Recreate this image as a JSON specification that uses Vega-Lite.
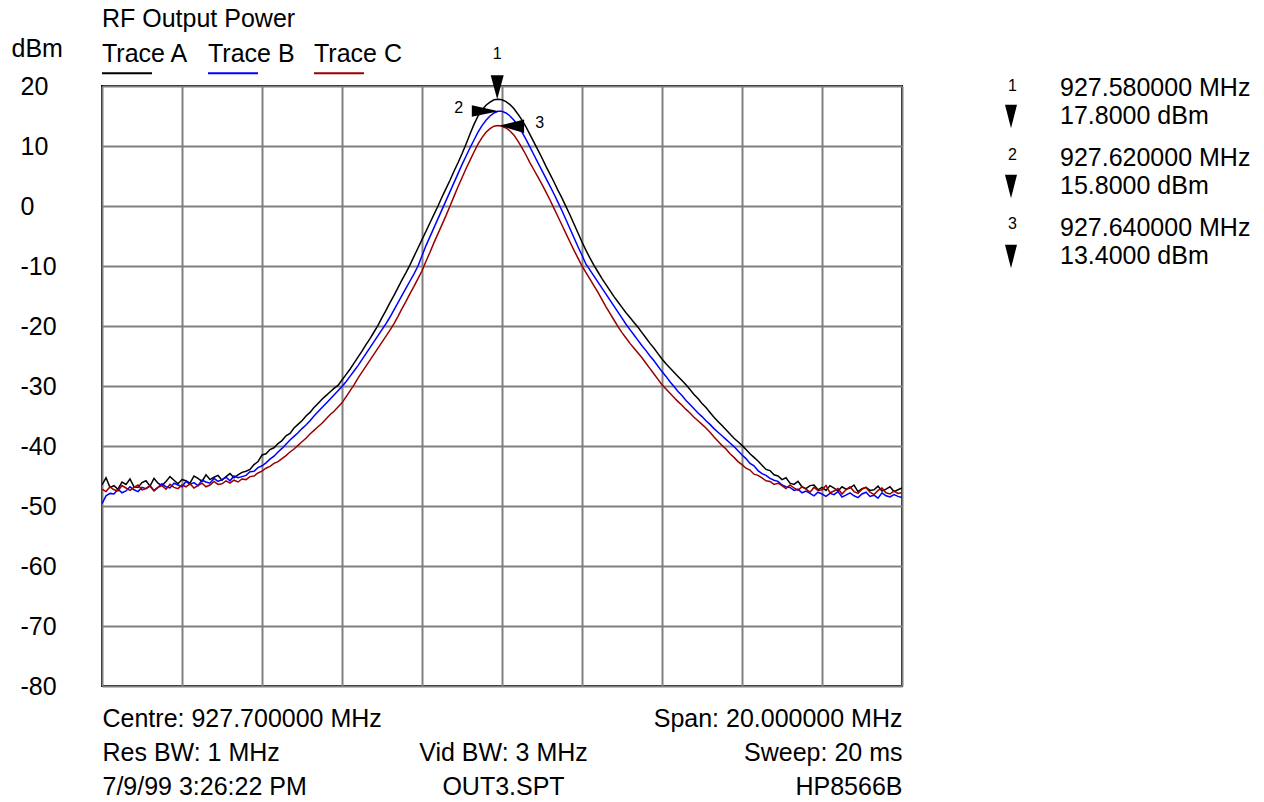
{
"$schema":"https://vega.github.io/schema/vega-lite/v6.json",
"width":800,"height":600,
"autosize":{"type":"none"},
"padding":{"left":102,"top":86,"right":362,"bottom":116},
"background":"white",
"title":{"text":"RF Output Power","anchor":"start","frame":"group","fontSize":25,"fontWeight":"normal","color":"#000000","offset":-16,"baseline":"alphabetic","font":"Liberation Sans"},
"config":{"font":"Liberation Sans","view":{"stroke":"#000000","strokeWidth":2},"axis":{"labelFont":"Liberation Sans","titleFont":"Liberation Sans"},"legend":{"labelFont":"Liberation Sans"}},
"datasets":{
"traces":[
{"f":917.7,"A":-46.5,"B":-49.6,"C":-47.2},{"f":917.8,"A":-45.3,"B":-48.3,"C":-47.6},{"f":917.9,"A":-46.9,"B":-47.9,"C":-46.8},{"f":918.0,"A":-46.6,"B":-48.0,"C":-47.3},{"f":918.1,"A":-47.2,"B":-47.2,"C":-47.5},{"f":918.2,"A":-46.0,"B":-47.8,"C":-46.6},{"f":918.3,"A":-46.4,"B":-47.5,"C":-47.0},{"f":918.4,"A":-45.5,"B":-46.8,"C":-47.4},{"f":918.5,"A":-46.8,"B":-47.3,"C":-46.9},{"f":918.6,"A":-46.9,"B":-47.6,"C":-46.5},
{"f":918.7,"A":-46.1,"B":-46.9,"C":-47.3},{"f":918.8,"A":-45.8,"B":-47.1,"C":-47.1},{"f":918.9,"A":-46.7,"B":-46.6,"C":-46.7},{"f":919.0,"A":-45.4,"B":-47.4,"C":-47.5},{"f":919.1,"A":-46.2,"B":-46.9,"C":-46.9},{"f":919.2,"A":-46.6,"B":-46.3,"C":-46.6},{"f":919.3,"A":-45.9,"B":-46.8,"C":-47.2},{"f":919.4,"A":-45.1,"B":-47.0,"C":-46.4},{"f":919.5,"A":-45.7,"B":-46.2,"C":-46.9},{"f":919.6,"A":-46.3,"B":-46.5,"C":-47.1},
{"f":919.7,"A":-45.6,"B":-46.8,"C":-46.5},{"f":919.8,"A":-45.8,"B":-45.9,"C":-46.8},{"f":919.9,"A":-46.2,"B":-46.4,"C":-46.3},{"f":920.0,"A":-45.0,"B":-46.1,"C":-47.0},{"f":920.1,"A":-45.4,"B":-46.6,"C":-46.6},{"f":920.2,"A":-45.9,"B":-45.7,"C":-46.2},{"f":920.3,"A":-44.8,"B":-46.0,"C":-46.8},{"f":920.4,"A":-45.6,"B":-46.2,"C":-46.5},{"f":920.5,"A":-45.2,"B":-45.4,"C":-45.9},{"f":920.6,"A":-44.9,"B":-45.9,"C":-46.4},
{"f":920.7,"A":-45.7,"B":-45.6,"C":-46.3},{"f":920.8,"A":-45.1,"B":-45.2,"C":-45.8},{"f":920.9,"A":-44.6,"B":-45.8,"C":-46.2},{"f":921.0,"A":-45.3,"B":-45.0,"C":-45.7},{"f":921.1,"A":-44.8,"B":-45.3,"C":-46.0},{"f":921.2,"A":-44.4,"B":-45.1,"C":-45.5},{"f":921.3,"A":-44.2,"B":-44.9,"C":-45.6},{"f":921.4,"A":-43.9,"B":-44.3,"C":-45.1},{"f":921.5,"A":-43.1,"B":-44.2,"C":-45.0},{"f":921.6,"A":-42.6,"B":-43.6,"C":-44.5},
{"f":921.7,"A":-41.5,"B":-43.3,"C":-44.2},{"f":921.8,"A":-41.3,"B":-42.8,"C":-43.7},{"f":921.9,"A":-40.6,"B":-42.2,"C":-43.4},{"f":922.0,"A":-40.3,"B":-41.7,"C":-42.9},{"f":922.1,"A":-39.6,"B":-41.0,"C":-42.6},{"f":922.2,"A":-39.1,"B":-40.4,"C":-42.1},{"f":922.3,"A":-38.3,"B":-39.7,"C":-41.6},{"f":922.4,"A":-37.9,"B":-39.0,"C":-41.0},{"f":922.5,"A":-37.0,"B":-38.4,"C":-40.5},{"f":922.6,"A":-36.4,"B":-37.8,"C":-39.9},
{"f":922.7,"A":-35.8,"B":-37.1,"C":-39.3},{"f":922.8,"A":-35.0,"B":-36.5,"C":-38.7},{"f":922.9,"A":-34.4,"B":-35.8,"C":-38.0},{"f":923.0,"A":-33.6,"B":-35.0,"C":-37.4},{"f":923.1,"A":-32.9,"B":-34.3,"C":-36.8},{"f":923.2,"A":-32.2,"B":-33.6,"C":-36.2},{"f":923.3,"A":-31.6,"B":-32.9,"C":-35.5},{"f":923.4,"A":-31.0,"B":-32.2,"C":-34.8},{"f":923.5,"A":-30.4,"B":-31.5,"C":-34.2},{"f":923.6,"A":-29.9,"B":-30.8,"C":-33.5},
{"f":923.7,"A":-29.0,"B":-30.1,"C":-32.8},{"f":923.8,"A":-28.1,"B":-29.3,"C":-31.8},{"f":923.9,"A":-27.2,"B":-28.4,"C":-30.8},{"f":924.0,"A":-26.2,"B":-27.5,"C":-29.8},{"f":924.1,"A":-25.2,"B":-26.6,"C":-28.7},{"f":924.2,"A":-24.2,"B":-25.6,"C":-27.7},{"f":924.3,"A":-23.1,"B":-24.6,"C":-26.7},{"f":924.4,"A":-22.1,"B":-23.6,"C":-25.7},{"f":924.5,"A":-21.0,"B":-22.6,"C":-24.7},{"f":924.6,"A":-19.9,"B":-21.6,"C":-23.7},
{"f":924.7,"A":-18.6,"B":-20.6,"C":-22.7},{"f":924.8,"A":-17.4,"B":-19.6,"C":-21.7},{"f":924.9,"A":-16.1,"B":-18.5,"C":-20.7},{"f":925.0,"A":-14.9,"B":-17.3,"C":-19.6},{"f":925.1,"A":-13.6,"B":-16.1,"C":-18.4},{"f":925.2,"A":-12.3,"B":-14.9,"C":-17.1},{"f":925.3,"A":-11.1,"B":-13.7,"C":-15.9},{"f":925.4,"A":-9.8,"B":-12.5,"C":-14.6},{"f":925.5,"A":-8.4,"B":-11.3,"C":-13.4},{"f":925.6,"A":-7.0,"B":-10.0,"C":-12.1},
{"f":925.7,"A":-5.6,"B":-8.3,"C":-10.8},{"f":925.8,"A":-4.2,"B":-6.6,"C":-9.2},{"f":925.9,"A":-2.8,"B":-5.1,"C":-7.7},{"f":926.0,"A":-1.4,"B":-3.6,"C":-6.1},{"f":926.1,"A":0.0,"B":-2.1,"C":-4.6},{"f":926.2,"A":1.5,"B":-0.6,"C":-3.1},{"f":926.3,"A":2.9,"B":0.9,"C":-1.6},{"f":926.4,"A":4.3,"B":2.4,"C":0.0},{"f":926.5,"A":5.8,"B":3.9,"C":1.6},{"f":926.6,"A":7.2,"B":5.4,"C":3.2},
{"f":926.7,"A":8.7,"B":6.9,"C":4.7},{"f":926.8,"A":10.3,"B":8.3,"C":6.2},{"f":926.9,"A":12.0,"B":9.7,"C":7.6},{"f":927.0,"A":13.6,"B":11.0,"C":9.0},{"f":927.1,"A":15.0,"B":12.3,"C":10.3},{"f":927.2,"A":16.0,"B":13.4,"C":11.4},{"f":927.3,"A":16.8,"B":14.3,"C":12.3},{"f":927.4,"A":17.3,"B":15.0,"C":12.9},{"f":927.5,"A":17.7,"B":15.5,"C":13.3},{"f":927.6,"A":17.8,"B":15.8,"C":13.4},
{"f":927.7,"A":17.7,"B":15.8,"C":13.3},{"f":927.8,"A":17.4,"B":15.5,"C":13.0},{"f":927.9,"A":16.9,"B":15.0,"C":12.5},{"f":928.0,"A":16.2,"B":14.3,"C":11.8},{"f":928.1,"A":15.3,"B":13.4,"C":10.8},{"f":928.2,"A":14.3,"B":12.3,"C":9.7},{"f":928.3,"A":13.2,"B":11.1,"C":8.5},{"f":928.4,"A":11.9,"B":9.8,"C":7.2},{"f":928.5,"A":10.6,"B":8.5,"C":6.0},{"f":928.6,"A":9.3,"B":7.2,"C":4.8},
{"f":928.7,"A":8.0,"B":5.9,"C":3.6},{"f":928.8,"A":6.6,"B":4.6,"C":2.3},{"f":928.9,"A":5.3,"B":3.3,"C":1.0},{"f":929.0,"A":4.0,"B":2.0,"C":-0.4},{"f":929.1,"A":2.6,"B":0.6,"C":-1.8},{"f":929.2,"A":1.3,"B":-0.8,"C":-3.2},{"f":929.3,"A":-0.1,"B":-2.3,"C":-4.6},{"f":929.4,"A":-1.5,"B":-3.8,"C":-6.0},{"f":929.5,"A":-3.0,"B":-5.3,"C":-7.4},{"f":929.6,"A":-4.5,"B":-6.8,"C":-8.7},
{"f":929.7,"A":-6.0,"B":-8.2,"C":-10.0},{"f":929.8,"A":-7.4,"B":-9.7,"C":-11.1},{"f":929.9,"A":-8.7,"B":-10.7,"C":-12.2},{"f":930.0,"A":-9.9,"B":-11.7,"C":-13.3},{"f":930.1,"A":-11.0,"B":-12.7,"C":-14.4},{"f":930.2,"A":-12.1,"B":-13.7,"C":-15.6},{"f":930.3,"A":-13.1,"B":-14.7,"C":-16.8},{"f":930.4,"A":-14.1,"B":-15.7,"C":-17.9},{"f":930.5,"A":-15.1,"B":-16.7,"C":-19.0},{"f":930.6,"A":-16.0,"B":-17.7,"C":-20.1},
{"f":930.7,"A":-16.9,"B":-18.7,"C":-21.1},{"f":930.8,"A":-17.8,"B":-19.7,"C":-22.0},{"f":930.9,"A":-18.6,"B":-20.6,"C":-22.9},{"f":931.0,"A":-19.4,"B":-21.5,"C":-23.7},{"f":931.1,"A":-20.2,"B":-22.4,"C":-24.5},{"f":931.2,"A":-21.1,"B":-23.3,"C":-25.3},{"f":931.3,"A":-22.0,"B":-24.1,"C":-26.2},{"f":931.4,"A":-22.9,"B":-25.0,"C":-27.1},{"f":931.5,"A":-23.7,"B":-25.8,"C":-28.0},{"f":931.6,"A":-24.6,"B":-26.7,"C":-28.9},
{"f":931.7,"A":-25.5,"B":-27.6,"C":-29.8},{"f":931.8,"A":-26.3,"B":-28.4,"C":-30.5},{"f":931.9,"A":-27.0,"B":-29.3,"C":-31.2},{"f":932.0,"A":-27.7,"B":-30.1,"C":-31.9},{"f":932.1,"A":-28.4,"B":-30.9,"C":-32.6},{"f":932.2,"A":-29.1,"B":-31.6,"C":-33.2},{"f":932.3,"A":-29.8,"B":-32.4,"C":-33.9},{"f":932.4,"A":-30.6,"B":-33.1,"C":-34.5},{"f":932.5,"A":-31.4,"B":-33.8,"C":-35.2},{"f":932.6,"A":-32.1,"B":-34.5,"C":-35.8},
{"f":932.7,"A":-32.9,"B":-35.1,"C":-36.4},{"f":932.8,"A":-33.6,"B":-35.8,"C":-37.0},{"f":932.9,"A":-34.4,"B":-36.4,"C":-37.7},{"f":933.0,"A":-35.2,"B":-37.1,"C":-38.5},{"f":933.1,"A":-35.9,"B":-37.7,"C":-39.2},{"f":933.2,"A":-36.6,"B":-38.3,"C":-39.9},{"f":933.3,"A":-37.3,"B":-38.9,"C":-40.5},{"f":933.4,"A":-38.0,"B":-39.5,"C":-41.3},{"f":933.5,"A":-38.7,"B":-40.1,"C":-41.9},{"f":933.6,"A":-39.3,"B":-40.8,"C":-42.6},
{"f":933.7,"A":-39.9,"B":-41.5,"C":-43.1},{"f":933.8,"A":-40.6,"B":-42.1,"C":-43.7},{"f":933.9,"A":-41.3,"B":-42.9,"C":-44.0},{"f":934.0,"A":-41.9,"B":-43.3,"C":-44.7},{"f":934.1,"A":-42.5,"B":-44.1,"C":-44.9},{"f":934.2,"A":-43.2,"B":-44.6,"C":-45.3},{"f":934.3,"A":-43.9,"B":-44.9,"C":-45.8},{"f":934.4,"A":-44.1,"B":-45.4,"C":-45.9},{"f":934.5,"A":-44.8,"B":-45.7,"C":-46.4},{"f":934.6,"A":-45.0,"B":-45.9,"C":-46.2},
{"f":934.7,"A":-45.6,"B":-46.5,"C":-46.6},{"f":934.8,"A":-45.3,"B":-46.8,"C":-47.1},{"f":934.9,"A":-46.2,"B":-46.9,"C":-46.5},{"f":935.0,"A":-46.4,"B":-47.4,"C":-47.0},{"f":935.1,"A":-45.9,"B":-47.2,"C":-47.4},{"f":935.2,"A":-46.8,"B":-47.8,"C":-46.8},{"f":935.3,"A":-47.1,"B":-47.5,"C":-47.2},{"f":935.4,"A":-46.6,"B":-47.9,"C":-47.7},{"f":935.5,"A":-46.5,"B":-48.3,"C":-46.9},{"f":935.6,"A":-47.3,"B":-47.7,"C":-47.4},
{"f":935.7,"A":-46.9,"B":-48.0,"C":-47.3},{"f":935.8,"A":-47.4,"B":-48.4,"C":-46.6},{"f":935.9,"A":-46.6,"B":-47.9,"C":-47.8},{"f":936.0,"A":-47.0,"B":-48.1,"C":-47.5},{"f":936.1,"A":-47.5,"B":-47.6,"C":-47.1},{"f":936.2,"A":-46.8,"B":-48.5,"C":-48.0},{"f":936.3,"A":-47.2,"B":-48.2,"C":-47.3},{"f":936.4,"A":-47.0,"B":-47.8,"C":-46.8},{"f":936.5,"A":-46.5,"B":-48.3,"C":-47.6},{"f":936.6,"A":-47.6,"B":-48.6,"C":-47.9},
{"f":936.7,"A":-47.1,"B":-48.0,"C":-47.2},{"f":936.8,"A":-46.9,"B":-47.7,"C":-46.9},{"f":936.9,"A":-47.4,"B":-48.4,"C":-47.7},{"f":937.0,"A":-47.3,"B":-48.2,"C":-48.1},{"f":937.1,"A":-46.7,"B":-48.7,"C":-47.4},{"f":937.2,"A":-47.5,"B":-47.8,"C":-47.0},{"f":937.3,"A":-47.2,"B":-48.3,"C":-47.8},{"f":937.4,"A":-46.8,"B":-48.5,"C":-48.0},{"f":937.5,"A":-47.6,"B":-48.1,"C":-47.5},{"f":937.6,"A":-47.3,"B":-48.4,"C":-47.9},
{"f":937.7,"A":-47.0,"B":-48.6,"C":-47.8}
],
"markers":[
{"mk":"1","f":927.58,"v":17.8,"fr":"927.580000 MHz","lv":"17.8000 dBm"},
{"mk":"2","f":927.62,"v":15.8,"fr":"927.620000 MHz","lv":"15.8000 dBm"},
{"mk":"3","f":927.64,"v":13.4,"fr":"927.640000 MHz","lv":"13.4000 dBm"}
]
},
"resolve":{"axis":{"x":"independent"}},
"layer":[
{
"data":{"name":"traces"},
"transform":[{"fold":["A","B","C"],"as":["trace","v"]}],
"mark":{"type":"line","strokeWidth":1.5,"clip":true},
"encoding":{
"x":{"field":"f","type":"quantitative","scale":{"domain":[917.7,937.7],"nice":false,"zero":false},
"axis":{"orient":"bottom","values":[917.7,919.7,921.7,923.7,925.7,927.7,929.7,931.7,933.7,935.7,937.7],"grid":true,"gridColor":"#808080","gridWidth":2,"gridOpacity":1,"labels":false,"ticks":false,"tickSize":0,"domain":false,
"title":["Centre: 927.700000 MHz","Res BW: 1 MHz","7/9/99 3:26:22 PM"],"titleX":0,"titleY":40,"titleAlign":"left","titleBaseline":"alphabetic","titleLineHeight":34,"titleFontSize":25,"titleFontWeight":"normal","titleColor":"#000000"}},
"y":{"field":"v","type":"quantitative","scale":{"domain":[-80,20],"nice":false,"zero":false},
"axis":{"values":[-80,-70,-60,-50,-40,-30,-20,-10,0,10,20],"labelExpr":"'' + datum.value","grid":true,"gridColor":"#808080","gridWidth":2,"gridOpacity":1,"ticks":false,"tickSize":0,"domain":false,"labelAlign":"left","labelBaseline":"middle","labelPadding":82,"labelFontSize":25,"labelColor":"#000000","labelFlush":false,"labelOverlap":false,
"title":"dBm","titleAngle":0,"titleX":-91,"titleY":-30,"titleAlign":"left","titleBaseline":"alphabetic","titleFontSize":25,"titleFontWeight":"normal","titleColor":"#000000"}},
"color":{"field":"trace","type":"nominal","scale":{"domain":["A","B","C"],"range":["#000000","#0000ff","#990000"]},
"legend":{"orient":"none","legendX":0,"legendY":-45.5,"direction":"horizontal","title":null,"labelExpr":"'Trace ' + datum.label","labelFontSize":25,"labelColor":"#000000","labelOffset":-27,"labelLimit":0,"symbolType":"M-1.08,1.52L2.92,1.52","symbolSize":625,"symbolStrokeWidth":2,"columnPadding":15,"padding":0}}
}
},
{
"data":{"name":"markers"},
"mark":{"type":"point","filled":true,"size":4,"strokeWidth":0,"opacity":1},
"encoding":{
"x":{"field":"f","type":"quantitative","axis":null},
"y":{"field":"v","type":"quantitative"},
"shape":{"field":"mk","type":"nominal","sort":null,"scale":{"range":["M0,0L-6.5,-24L6.5,-24Z","M0,0L-27,-6L-27,5.5Z","M0,0L24.5,-6L24.5,7.5Z"]},
"legend":{"orient":"none","legendX":890,"legendY":-8,"direction":"vertical","title":null,"labelFont":"Liberation Sans Narrow, Liberation Sans","labelFontSize":16,"labelColor":"#000000","labelOffset":0,"symbolSize":0.01,"symbolOpacity":0,"symbolStrokeWidth":0,"rowPadding":53,"padding":0}},
"fill":{"field":"lv","type":"nominal","sort":null,"scale":{"range":["#000000","#000000","#000000"]},
"legend":{"orient":"none","legendX":933,"legendY":17.5,"direction":"vertical","title":null,"labelFontSize":25,"labelColor":"#000000","labelOffset":0,"labelLimit":0,"symbolType":"M-3.4,-0.9L-2.44,-0.9L-2.92,0.98Z","symbolSize":625,"symbolStrokeWidth":0,"symbolOpacity":1,"rowPadding":44,"padding":0}},
"stroke":{"field":"fr","type":"nominal","sort":null,"scale":{"range":["#000000","#000000","#000000"]},
"legend":{"orient":"none","legendX":933,"legendY":-10.5,"direction":"vertical","title":null,"labelFontSize":25,"labelColor":"#000000","labelOffset":0,"labelLimit":0,"symbolSize":625,"symbolOpacity":0,"symbolStrokeWidth":0,"rowPadding":44,"padding":0}}
}
},
{
"data":{"name":"markers"},
"transform":[{"filter":"datum.mk == '1'"}],
"mark":{"type":"text","font":"Liberation Sans Narrow, Liberation Sans","fontSize":16,"align":"center","baseline":"alphabetic","dx":0,"dy":-40,"color":"#000000"},
"encoding":{
"x":{"field":"f","type":"quantitative","axis":{"orient":"bottom","grid":false,"labels":false,"ticks":false,"domain":false,"title":["Vid BW: 3 MHz","OUT3.SPT"],"titleX":401,"titleY":74,"titleAlign":"center","titleBaseline":"alphabetic","titleLineHeight":34,"titleFontSize":25,"titleFontWeight":"normal","titleColor":"#000000"}},
"y":{"field":"v","type":"quantitative"},
"text":{"field":"mk"}
}
},
{
"data":{"name":"markers"},
"transform":[{"filter":"datum.mk == '2'"}],
"mark":{"type":"text","font":"Liberation Sans Narrow, Liberation Sans","fontSize":16,"align":"center","baseline":"alphabetic","dx":-40,"dy":2,"color":"#000000"},
"encoding":{
"x":{"field":"f","type":"quantitative","axis":{"orient":"bottom","grid":false,"labels":false,"ticks":false,"domain":false,"title":["Span: 20.000000 MHz","Sweep: 20 ms","HP8566B"],"titleX":800,"titleY":40,"titleAlign":"right","titleBaseline":"alphabetic","titleLineHeight":34,"titleFontSize":25,"titleFontWeight":"normal","titleColor":"#000000"}},
"y":{"field":"v","type":"quantitative"},
"text":{"field":"mk"}
}
},
{
"data":{"name":"markers"},
"transform":[{"filter":"datum.mk == '3'"}],
"mark":{"type":"text","font":"Liberation Sans Narrow, Liberation Sans","fontSize":16,"align":"center","baseline":"alphabetic","dx":40,"dy":2.5,"color":"#000000"},
"encoding":{
"x":{"field":"f","type":"quantitative","axis":null},
"y":{"field":"v","type":"quantitative"},
"text":{"field":"mk"}
}
}
]
}
